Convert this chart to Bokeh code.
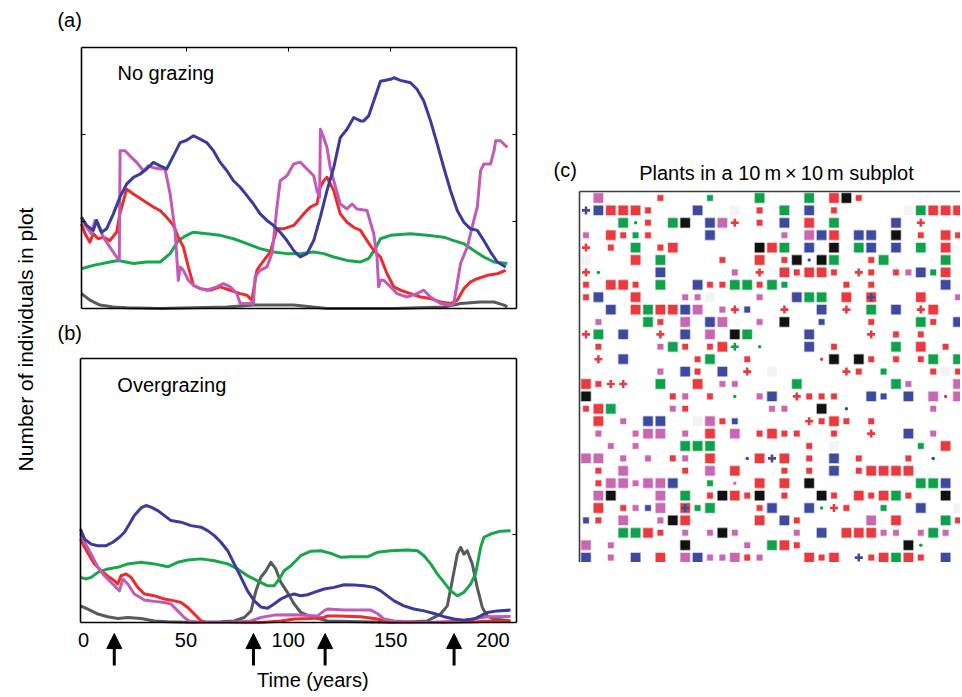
import math
from bokeh.plotting import figure
from bokeh.models import (Range1d, Label, Arrow, NormalHead, FixedTicker, LinearAxis,
                          ColumnDataSource)
from bokeh.layouts import row, column
from bokeh.embed import file_html
from bokeh.resources import INLINE

FONT = "Liberation Sans"

# ---------------- data ----------------
years_ticks = [0, 50, 100, 150, 200]
grazing_events = [15, 83, 118, 181]

# Panel (a): no grazing  (time in years, number of individuals, arbitrary scale 0-100)
a_blue = [(-1.5, 34.9), (1.0, 31.8), (4.3, 29.9), (5.9, 33.7), (8.3, 29.2), (10.8, 30.5), (14.1, 36.2),
          (17.3, 42.6), (20.6, 47.6), (23.9, 50.2), (27.1, 51.4), (30.4, 53.4), (33.7, 55.9), (37.0, 54.6),
          (40.2, 53.4), (43.5, 58.4), (46.8, 63.5), (50.0, 64.4), (53.3, 66.1), (56.6, 64.8), (59.8, 63.5),
          (63.1, 60.4), (66.4, 55.9), (69.7, 52.7), (72.9, 48.9), (76.2, 46.4), (79.5, 43.2), (82.7, 40.0),
          (86.0, 36.2), (89.3, 33.7), (92.5, 31.8), (95.8, 29.2), (99.1, 26.0), (102.4, 22.2), (105.6, 19.7),
          (108.9, 21.0), (112.2, 26.0), (115.4, 34.9), (118.7, 45.1), (122.0, 53.9), (125.2, 65.4),
          (128.5, 68.6), (131.8, 73.1), (135.1, 71.8), (136.7, 71.8), (139.1, 73.7), (141.6, 79.4),
          (144.9, 87.0), (149.8, 87.7), (151.4, 88.3), (154.7, 87.3), (159.6, 86.4), (162.8, 83.9),
          (166.1, 79.4), (169.4, 71.8), (172.7, 62.9), (175.9, 53.9), (179.2, 45.1), (182.5, 37.5),
          (185.7, 33.0), (189.0, 30.5), (192.3, 29.9), (195.5, 26.0), (198.8, 21.6), (202.1, 17.8),
          (206.2, 15.9)]
a_red = [(-1.5, 32.4), (0.2, 28.6), (2.6, 25.4), (4.3, 28.6), (6.7, 26.7), (9.2, 27.3), (12.4, 26.0),
         (15.7, 29.2), (17.3, 36.2), (20.6, 45.7), (23.9, 43.8), (28.8, 41.3), (33.7, 38.8), (37.0, 37.5),
         (40.2, 34.9), (43.5, 31.8), (45.9, 27.3), (48.4, 23.5), (50.8, 15.9), (53.3, 8.9), (56.6, 7.6),
         (61.5, 7.0), (66.4, 8.3), (71.3, 7.0), (76.2, 5.7), (79.5, 5.1), (81.9, 3.2), (84.4, 14.6),
         (86.0, 16.5), (90.9, 21.6), (94.2, 30.5), (97.4, 30.5), (102.4, 31.8), (107.3, 36.2), (110.5, 38.8),
         (113.8, 40.0), (115.4, 46.4), (117.1, 48.9), (118.7, 50.2), (122.0, 45.1), (125.2, 36.2),
         (128.5, 33.0), (131.8, 31.1), (135.1, 29.9), (138.3, 26.0), (141.6, 22.2), (144.9, 19.7),
         (148.1, 13.3), (151.4, 8.3), (154.7, 7.0), (159.6, 5.7), (164.5, 4.4), (169.4, 3.8), (174.3, 2.5),
         (179.2, 1.9), (182.5, 3.2), (185.7, 7.6), (189.0, 10.2), (192.3, 11.4), (197.2, 12.7),
         (202.1, 13.3), (206.2, 14.6)]
a_magenta = [(-1.5, 34.9), (1.0, 31.1), (3.4, 28.6), (5.1, 33.7), (6.7, 31.8), (9.2, 27.3), (12.4, 23.5),
             (15.7, 19.7), (17.0, 18.4), (17.4, 60.4), (19.8, 60.4), (22.2, 58.4), (25.5, 55.9), (28.8, 52.7),
             (31.2, 54.6), (33.7, 53.9), (37.0, 53.4), (39.4, 53.4), (41.9, 43.8), (44.3, 29.9), (45.9, 10.8),
             (46.8, 15.9), (48.4, 14.6), (50.8, 10.8), (53.3, 8.9), (56.6, 7.6), (59.8, 7.0), (64.7, 8.3),
             (68.0, 9.5), (71.3, 8.3), (74.6, 5.7), (76.2, 1.9), (79.5, 1.9), (82.7, 1.9), (83.5, 12.1),
             (86.0, 14.6), (89.3, 15.9), (91.7, 21.0), (92.5, 26.0), (94.2, 38.8), (95.8, 48.9), (99.1, 50.8),
             (102.4, 55.3), (105.6, 56.0), (108.9, 53.4), (112.2, 50.8), (113.8, 45.1), (115.1, 42.6),
             (115.5, 68.6), (117.1, 65.4), (118.7, 61.6), (120.3, 54.0), (122.0, 48.9), (125.2, 40.0),
             (128.5, 38.1), (131.0, 40.0), (133.4, 38.1), (138.3, 37.5), (141.6, 28.6), (143.2, 19.7),
             (144.0, 8.3), (144.9, 10.8), (146.5, 10.8), (149.8, 8.3), (153.0, 5.7), (157.9, 4.4),
             (162.8, 5.7), (166.1, 7.0), (169.4, 4.4), (174.3, 1.9), (179.2, 1.3), (180.8, 1.9),
             (184.1, 17.2), (187.4, 23.5), (190.6, 33.7), (192.3, 38.8), (193.9, 52.7), (195.5, 55.3),
             (198.8, 55.3), (200.5, 60.4), (201.3, 64.2), (203.7, 64.2), (207.0, 61.6)]
a_green = [(-1.5, 15.2), (4.3, 16.5), (12.4, 17.8), (16.5, 18.4), (23.9, 17.2), (30.4, 17.8), (37.0, 17.8),
           (41.9, 21.0), (45.9, 26.0), (50.0, 28.0), (53.3, 29.2), (59.8, 28.6), (66.4, 28.0), (72.9, 26.7),
           (79.5, 24.8), (86.0, 22.9), (92.5, 21.6), (99.1, 21.0), (105.6, 21.0), (112.2, 21.6), (117.1, 21.0),
           (122.0, 19.7), (128.5, 18.4), (135.1, 17.8), (139.1, 19.1), (142.4, 22.9), (144.9, 26.7),
           (149.8, 28.0), (159.6, 28.6), (167.8, 28.0), (175.9, 27.3), (180.8, 26.0), (185.7, 24.8),
           (190.6, 22.2), (195.5, 19.7), (200.5, 17.8), (207.0, 17.2)]
a_gray = [(-1.5, 5.7), (2.6, 3.2), (7.5, 1.3), (14.1, 0.6), (20.6, 0.3), (37.0, 0.0), (69.7, 0.6),
          (82.7, 1.3), (102.4, 1.3), (118.7, 0.0), (151.4, 0.0), (175.9, 0.6), (184.1, 1.9), (193.9, 2.5),
          (200.5, 2.5), (205.4, 1.3), (207.0, 0.6)]

# Panel (b): overgrazing
b_blue = [(-1.5, 35.4), (0.5, 31.6), (3.7, 29.7), (7.0, 29.1), (11.0, 29.1), (14.3, 30.4), (17.5, 32.3),
          (20.0, 34.2), (22.4, 37.3), (24.8, 40.5), (28.1, 43.4), (30.5, 44.3), (33.0, 43.7), (36.2, 42.4),
          (39.5, 40.5), (42.7, 38.6), (47.6, 38.0), (52.5, 36.7), (57.4, 36.1), (60.6, 34.8), (63.9, 32.9),
          (67.1, 30.4), (70.4, 27.2), (73.6, 22.2), (76.9, 17.1), (80.1, 12.0), (83.4, 8.2), (86.6, 5.9),
          (89.9, 5.4), (93.1, 7.0), (96.4, 8.9), (99.6, 10.1), (102.9, 10.8), (106.1, 10.1), (109.4, 10.5),
          (112.6, 11.4), (117.5, 12.7), (122.4, 13.3), (127.3, 14.3), (132.2, 14.2), (137.0, 13.9),
          (141.9, 13.3), (145.2, 12.0), (148.4, 10.1), (151.7, 8.2), (156.5, 6.3), (161.4, 5.1),
          (166.3, 4.4), (171.2, 3.4), (176.1, 2.2), (181.0, 1.3), (185.8, 0.9), (190.7, 1.3), (194.0, 2.5),
          (197.2, 3.8), (202.1, 4.4), (208.6, 4.7)]
b_green = [(-1.5, 17.1), (1.3, 16.5), (3.7, 17.1), (7.0, 19.0), (11.8, 20.3), (16.7, 20.9), (21.6, 22.2),
           (28.1, 22.8), (34.6, 22.2), (41.1, 21.1), (46.0, 22.8), (50.9, 23.7), (57.4, 24.1), (63.9, 23.4),
           (70.4, 22.2), (75.2, 20.3), (80.1, 17.7), (85.0, 15.8), (89.9, 13.9), (93.1, 13.9), (95.6, 16.5),
           (98.0, 19.6), (101.3, 21.5), (106.1, 25.3), (111.0, 27.0), (115.9, 27.2), (120.8, 26.2),
           (125.7, 24.7), (130.5, 24.9), (138.7, 24.9), (143.5, 26.6), (150.0, 27.2), (158.2, 27.5),
           (163.1, 27.2), (166.3, 25.3), (169.6, 22.2), (172.8, 18.4), (176.1, 15.2), (179.3, 12.0),
           (182.6, 10.1), (185.8, 11.4), (189.1, 14.6), (191.5, 18.4), (194.0, 28.5), (195.6, 32.3),
           (198.8, 33.5), (203.7, 34.6), (208.6, 34.8)]
b_red = [(-1.5, 31.6), (0.5, 28.5), (2.9, 25.3), (5.3, 22.2), (8.6, 19.6), (12.6, 17.1), (15.1, 15.8),
         (16.7, 14.6), (18.3, 17.7), (20.8, 18.4), (23.2, 17.1), (26.5, 13.3), (29.7, 10.8), (34.6, 10.1),
         (39.5, 8.9), (44.4, 8.2), (47.6, 7.6), (50.9, 5.7), (54.1, 3.2), (57.4, 0.6), (60.6, 0.0),
         (70.4, 0.0), (86.6, 0.0), (96.4, 0.6), (102.9, 1.3), (111.0, 1.5), (117.5, 1.9), (119.2, 2.5),
         (124.0, 2.5), (135.4, 2.2), (143.5, 1.3), (148.4, 0.3), (159.8, 0.0), (176.1, 0.0), (192.3, 0.3),
         (200.5, 0.6), (208.6, 0.4)]
b_magenta = [(-1.5, 33.5), (0.5, 30.4), (3.7, 25.9), (7.0, 20.9), (10.2, 17.7), (13.5, 15.2), (17.5, 12.0),
             (19.2, 16.5), (21.6, 14.6), (24.8, 10.8), (29.7, 8.5), (34.6, 8.0), (39.5, 7.6), (42.7, 7.0),
             (46.0, 4.4), (49.2, 1.9), (51.7, 0.6), (57.4, 0.0), (70.4, 0.0), (81.8, 0.6), (86.6, 1.9),
             (93.1, 2.8), (102.9, 2.9), (114.3, 2.5), (117.5, 4.4), (119.2, 5.1), (127.3, 4.7), (135.4, 4.7),
             (140.3, 4.7), (143.5, 3.4), (146.8, 1.3), (151.7, 0.6), (167.9, 0.0), (184.2, 0.6), (192.3, 1.6),
             (197.2, 2.2), (208.6, 2.3)]
b_gray = [(-1.5, 6.3), (2.1, 5.1), (7.0, 3.2), (11.8, 2.2), (16.7, 1.5), (21.6, 1.9), (28.1, 1.5),
          (34.6, 0.6), (41.1, 0.3), (54.1, 0.0), (67.1, 0.3), (73.6, 0.6), (78.5, 1.9), (81.8, 4.4),
          (84.2, 12.0), (86.6, 17.1), (89.1, 19.6), (91.5, 22.8), (93.9, 20.3), (96.4, 15.2), (99.6, 11.4),
          (102.9, 7.0), (106.1, 3.8), (111.0, 2.2), (119.2, 0.6), (135.4, 0.3), (151.7, 0.0), (167.9, 0.6),
          (174.4, 3.2), (177.7, 6.3), (180.1, 15.8), (182.6, 25.9), (184.2, 28.5), (185.8, 25.9),
          (187.4, 27.2), (189.9, 22.2), (192.3, 13.3), (194.8, 5.7), (197.2, 2.5), (200.5, 1.3),
          (208.6, 0.6)]

# Panel (c): plants in a 10 m x 10 m subplot, one character per cell (rows top to bottom)
# R/B/G/M/K large plant, r/b/g/m/k small plant, + # * seedlings (red/blue/green),
# , : ; ' tiny (red/blue/green/magenta), x large red with blue seedling, f faint, . empty
plot_cells = [
    ".M....r...g...G...G.RKr........",
    "#BRRRr...B..f.r.G.B.r.....fGRRR",
    "...G;r.GK.BM+.r.B.R.G....B.+...",
    "m.Rrgr....B.....m.MBR.BB.K.r.Rr",
    "+.r.G.rR......KRG.B.K.GB.B.G.R.",
    "f...R.G....r..R.rK:KG..rG....G.",
    "+;....B.....m.+.RrRRr.+r.rmBgR.",
    "r.RRr.G..BrrGGrGg....r.r.....B.",
    "rB..R...mmf...m..BGG.R.x...R..m",
    "..B.RGRRBM.m+b..+..B.+.G.B.+R..",
    ".m...Gr.M.BM..m.K..b...r...Gr.B",
    "+G.B..+.B.M.KG....B....+.r.r...",
    ".r....mGr.rR*.;...B.r....G.R.r.",
    ".+.B.....rG..r.....,K.Kr.r.rG.G",
    "......m.Br.B.+.f.....+r.g...rfr",
    "Rr++..G..R.mm....G.......Gm...M",
    "K......rm.r.;.mB.+rrr..Bb.B.M,M",
    "rRG....mr......mm..K.:......m..",
    ".R.m.BB..fMrb.....+rRr.r.......",
    ".m..mMM.m.R.M.rRrr..r..+..B.m..",
    "..m.m...GGG.......r.f......g.R.",
    "MM.m.m.rm.R..:R#R.r.B.r...r.:..",
    ".r.M....r.M.R...r.r.B.rRRRR....",
    ".rMMmMMB..g.'.R.R.K........GGB.",
    ".MK...M.G.rKRrK.r..Kr.RrRGr..K.",
    ".R.rmbM.xgG...rB..B;+r..g..B..f",
    "br.M..mKR.....R.Br.....M.R...Gr",
    "...GGRr.m.mKm....m.B.RRRmm.mGm.",
    "M.m.....K....m.GRr........K;...",
    "B.m.B.R.MBmmMrm...RrR.#rRGRr.B.",
]

# ---------------- styles / layout constants ----------------
C_BLUE, C_RED, C_MAG, C_GREEN, C_GRAY = "#3b3b9c", "#ec2b2d", "#c25ab8", "#18a64b", "#565b5c"
Q_RED, Q_BLUE, Q_GREEN, Q_MAG, Q_BLACK, Q_FAINT = "#e83a3f", "#3d4a9e", "#0fa14b", "#c868b3", "#111111", "#f3f3f3"
LW = 3.0
XMIN, XMAX = -1.5, 211.5
YMIN, YMAX = 0, 100


def map_range(c0, c1, p0, p1, v0, v1):
    """Range whose canvas pixels c0..c1 put value v0 at pixel p0 and v1 at pixel p1."""
    s = (v1 - v0) / (p1 - p0)
    return Range1d(v0 + (c0 - p0) * s, v0 + (c1 - p0) * s)


def base_fig(w, h, xr, yr):
    p = figure(width=w, height=h, x_range=xr, y_range=yr, min_border=0, title=None,
               x_axis_location=None, y_axis_location=None, outline_line_color=None,
               output_backend="svg", toolbar_location=None)
    for g in p.xgrid:
        g.visible = False
    for g in p.ygrid:
        g.visible = False
    return p


def box_axis(loc, bounds, ticks=(), tick_in=0, labels=False, color="black", width=1.6, **kw):
    opts = dict(fixed_location=loc, bounds=bounds, ticker=FixedTicker(ticks=list(ticks)),
                major_tick_in=tick_in, major_tick_out=0, minor_tick_in=0, minor_tick_out=0,
                axis_line_color=color, axis_line_width=width,
                major_tick_line_color="black", major_tick_line_width=1)
    if not labels:
        opts.update(major_label_text_color=None, major_label_text_font_size="1px")
    opts.update(kw)
    return LinearAxis(**opts)


def unzip(pairs):
    return [t for t, _ in pairs], [v for _, v in pairs]


# ---------------- y-axis label column (x 0..48) ----------------
p0 = base_fig(48, 695, Range1d(0, 48), Range1d(695, 0))
p0.add_layout(Label(x=25, y=339, text="Number of individuals in plot", angle=math.pi / 2,
                    text_font=FONT, text_font_size="21px", text_align="center",
                    text_baseline="middle", text_color="black"))

# ---------------- panel (a): canvas x 48..530, y 0..318; box x 81..516, y 46.7..308 -------------
pa = base_fig(482, 318, map_range(48, 530, 81, 516, XMIN, XMAX),
              map_range(318, 0, 308, 46.7, YMIN, YMAX))
pa.add_layout(box_axis(XMIN, (YMIN, YMAX), [33.3, 66.7], 4), "left")
pa.add_layout(box_axis(XMAX, (YMIN, YMAX), [33.3, 66.7], 4), "right")
pa.add_layout(box_axis(YMAX, (XMIN, XMAX), [50, 100, 150], 4), "above")
pa.add_layout(box_axis(YMIN, (XMIN, XMAX)), "below")

for series, col in [(a_gray, C_GRAY), (a_green, C_GREEN), (a_red, C_RED), (a_magenta, C_MAG), (a_blue, C_BLUE)]:
    t, v = unzip(series)
    pa.line(t, v, line_color=col, line_width=LW, line_join="round")

pa.add_layout(Label(x=16.1, y=90, text="No grazing", text_font=FONT, text_font_size="20px",
                    text_baseline="middle", text_align="left", text_color="black"))
pa.add_layout(Label(x=-13.3, y=110.3, text="(a)", text_font=FONT, text_font_size="20px",
                    text_baseline="middle", text_align="left", text_color="black"))

# ---------------- panel (b): canvas x 48..530, y 318..695; box x 80..516, y 358..622 -------------
pb = base_fig(482, 377, map_range(48, 530, 80, 516, XMIN, XMAX),
              map_range(695, 318, 622, 358, YMIN, YMAX))
pb.add_layout(box_axis(XMIN, (YMIN, YMAX)), "left")
pb.add_layout(box_axis(XMAX, (YMIN, YMAX), [33.3], 4), "right")
pb.add_layout(box_axis(YMAX, (XMIN, XMAX)), "above")
pb.add_layout(box_axis(YMIN, (XMIN, XMAX), years_ticks, 0, labels=True,
                       major_label_standoff=10, major_label_text_font=FONT,
                       major_label_text_font_size="20px", major_label_text_color="black"), "below")

for series, col in [(b_gray, C_GRAY), (b_green, C_GREEN), (b_red, C_RED), (b_magenta, C_MAG), (b_blue, C_BLUE)]:
    t, v = unzip(series)
    pb.line(t, v, line_color=col, line_width=LW, line_join="round")

pb.add_layout(Label(x=16.5, y=89.8, text="Overgrazing", text_font=FONT, text_font_size="20px",
                    text_baseline="middle", text_align="left", text_color="black"))
pb.add_layout(Label(x=-12.7, y=109.5, text="(b)", text_font=FONT, text_font_size="20px",
                    text_baseline="middle", text_align="left", text_color="black"))
pb.add_layout(Label(x=112, y=-21.8, text="Time (years)", text_font=FONT, text_font_size="20px",
                    text_baseline="middle", text_align="center", text_color="black"))
for t in grazing_events:
    pb.add_layout(Arrow(end=NormalHead(size=15, fill_color="black", line_color="black", line_width=1),
                        x_start=t, y_start=-16.3, x_end=t, y_end=-4.2,
                        line_color="black", line_width=3))

# ---------------- panel (c): canvas x 530..960, y 0..562; grid origin (579.3, 191.3), 12.4 px cells ----
CELL = 12.4
pc = base_fig(430, 562, map_range(530, 960, 579.3, 579.3 + CELL, 0, 1),
              map_range(562, 0, 191.3, 191.3 + CELL, 0, 1))
pc.add_layout(box_axis(0, (0, 30), color="#3c3c3c"), "left")
pc.add_layout(box_axis(0, (0, 32), color="#3c3c3c"), "above")

colour_of = {"r": Q_RED, "b": Q_BLUE, "g": Q_GREEN, "m": Q_MAG, "k": Q_BLACK, "f": Q_FAINT}
seedling = {"+": Q_RED, "#": Q_BLUE, "*": Q_GREEN}
tiny = {",": Q_RED, ":": Q_BLUE, ";": Q_GREEN, "'": Q_MAG}
large = dict(x=[], y=[], c=[])
small = dict(x=[], y=[], c=[])
plus = dict(x=[], y=[], c=[])
dots = dict(x=[], y=[], c=[])
for r, rowstr in enumerate(plot_cells):
    for k, ch in enumerate(rowstr):
        cx, cy = k + 0.5, r + 0.5
        if ch == ".":
            continue
        if ch == "x":
            large["x"].append(cx); large["y"].append(cy); large["c"].append(Q_RED)
            plus["x"].append(cx); plus["y"].append(cy); plus["c"].append(Q_BLUE)
        elif ch in "RBGMKf":
            large["x"].append(cx); large["y"].append(cy); large["c"].append(colour_of[ch.lower()])
        elif ch in "rbgmk":
            small["x"].append(cx); small["y"].append(cy); small["c"].append(colour_of[ch])
        elif ch in seedling:
            plus["x"].append(cx); plus["y"].append(cy); plus["c"].append(seedling[ch])
        elif ch in tiny:
            dots["x"].append(cx); dots["y"].append(cy); dots["c"].append(tiny[ch])

pc.rect(x="x", y="y", width=0.75, height=0.75, fill_color="c", line_color="c", line_alpha=0.35,
        line_width=1.6, source=ColumnDataSource(large))
pc.rect(x="x", y="y", width=0.45, height=0.45, fill_color="c", line_color="c", line_alpha=0.35,
        line_width=1.4, source=ColumnDataSource(small))
pc.scatter(x="x", y="y", marker="cross", size=8, line_color="c", line_width=2.6,
           source=ColumnDataSource(plus))
pc.scatter(x="x", y="y", marker="circle", size=3.5, fill_color="c", line_color=None,
           source=ColumnDataSource(dots))

pc.add_layout(Label(x=15.86, y=-1.55, text="Plants in a 10\u2009m\u2009\u00d7\u200910\u2009m subplot",
                    text_font=FONT, text_font_size="20px", text_baseline="middle",
                    text_align="center", text_color="black"))
pc.add_layout(Label(x=-2.12, y=-1.72, text="(c)", text_font=FONT, text_font_size="20px",
                    text_baseline="middle", text_align="left", text_color="black"))

layout = row(p0, column(pa, pb), pc)
open("out.html", "w").write(file_html(layout, INLINE))
